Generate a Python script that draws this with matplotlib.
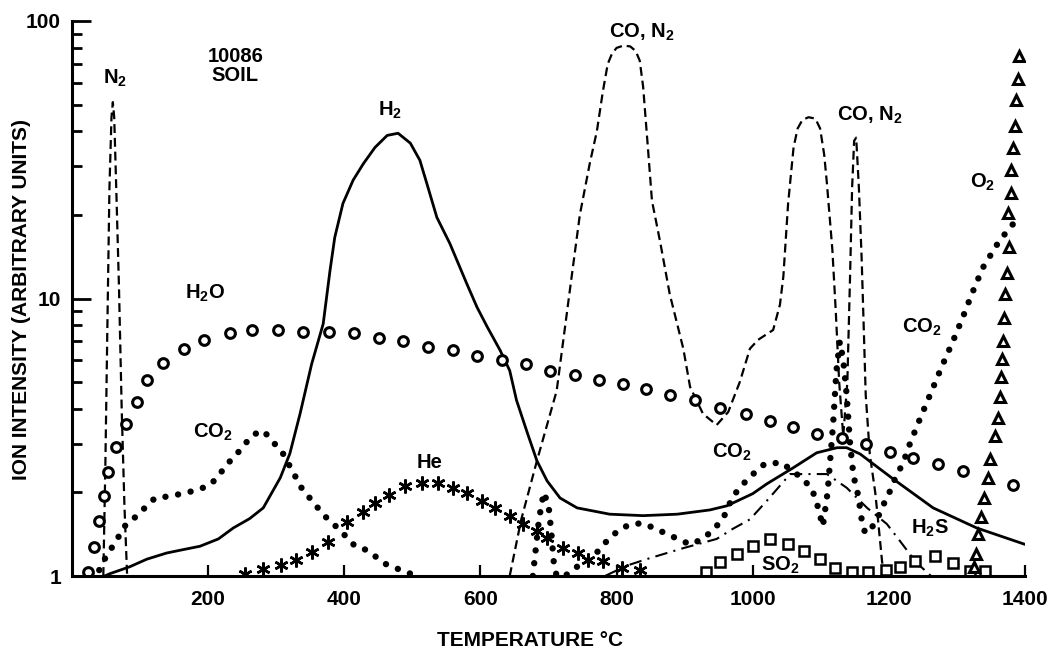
import numpy as np
import matplotlib as mpl
mpl.use('Agg')
import matplotlib.pyplot as plt

plt.rcParams['font.family'] = ['Liberation Sans', 'DejaVu Sans']
plt.rcParams['font.weight'] = 'bold'
plt.rcParams['mathtext.default'] = 'regular'

# --- data (temperature degC, ion intensity) ---
h2o_t = [23, 32, 40, 47, 53, 65, 79, 95, 110, 134, 165, 194, 232, 265, 303, 339, 378, 414,
         451, 486, 523, 560, 595, 632, 667, 702, 739, 774, 809, 843, 878, 915, 952, 990,
         1025, 1059, 1094, 1131, 1166, 1201, 1236, 1272, 1309, 1382]
h2o_i = [1.03, 1.27, 1.58, 1.94, 2.37, 2.92, 3.54, 4.25, 5.1, 5.87, 6.55, 7.07, 7.5, 7.7, 7.7,
         7.6, 7.6, 7.5, 7.2, 7.0, 6.7, 6.5, 6.2, 6.0, 5.8, 5.5, 5.3, 5.1, 4.9, 4.7, 4.5, 4.3,
         4.04, 3.82, 3.63, 3.45, 3.26, 3.15, 3.0, 2.8, 2.67, 2.54, 2.39, 2.13]

h2_t = [48, 56, 85, 110, 139, 160, 188, 215, 237, 261, 281, 306, 320, 335, 352, 369, 379, 386,
        398, 413, 428, 445, 463, 479, 497, 511, 521, 536, 555, 580, 595, 610, 629, 643, 653,
        668, 683, 698, 717, 742, 790, 839, 889, 937, 962, 1000, 1021, 1059, 1094, 1124, 1138,
        1158, 1206, 1265, 1329, 1400]
h2_i = [1.0, 1.02, 1.08, 1.15, 1.21, 1.24, 1.28, 1.36, 1.49, 1.61, 1.76, 2.26, 2.76, 3.84, 5.8,
        8.1, 12.6, 16.6, 22, 26.7, 30.6, 35, 38.7, 39.4, 36.3, 31.5, 26.1, 19.6, 15.8, 11.3,
        9.3, 7.9, 6.5, 5.5, 4.3, 3.33, 2.6, 2.2, 1.91, 1.76, 1.67, 1.65, 1.67, 1.73, 1.79,
        1.98, 2.15, 2.45, 2.78, 2.9, 2.9, 2.75, 2.24, 1.76, 1.49, 1.3]

n2_t = [46, 49, 52, 55, 58, 60, 62, 65, 69, 73, 77, 81]
n2_i = [1.0, 2.5, 8, 25, 45, 51, 45, 25, 11, 4, 1.8, 1.0]

co_n2_t = [643, 660, 683, 712, 732, 746, 761, 771, 780, 787, 793, 800, 810, 820, 828, 834, 839,
           846, 852, 864, 878, 898, 908, 927, 947, 964, 981, 996, 1008, 1030, 1040, 1045, 1052,
           1060, 1066, 1073, 1082, 1092, 1099, 1105, 1109, 1117, 1122, 1127, 1133, 1139, 1143,
           1146, 1149, 1152, 1156, 1160, 1163, 1166, 1172, 1180, 1184, 1190, 1193]
co_n2_i = [1.0, 1.6, 2.6, 4.65, 11, 20, 31, 40, 56, 70, 76, 80, 81.5, 81, 78, 72, 58, 35, 22.5,
           16, 10.4, 6.6, 4.8, 3.84, 3.5, 3.9, 5.0, 6.6, 7.1, 7.7, 9.5, 12, 22, 35, 41, 44, 45,
           44.5, 41, 33, 26, 15, 9, 5, 3.2, 5, 12, 25, 37, 38, 25, 14, 8, 4.5, 2.75, 2.0, 1.6,
           1.13, 1.0]

co2_low_t = [40, 48, 58, 68, 79, 93, 108, 122, 145, 165, 184, 203, 215, 227, 240, 253, 266, 281,
             295, 310, 327, 338, 350, 362, 374, 389, 401, 416, 433, 449, 462, 479, 497]
co2_low_i = [1.05, 1.15, 1.26, 1.38, 1.53, 1.63, 1.77, 1.91, 1.94, 1.99, 2.04, 2.13, 2.29, 2.52,
             2.71, 2.97, 3.23, 3.34, 3.05, 2.76, 2.31, 2.06, 1.9, 1.75, 1.62, 1.5, 1.4, 1.28,
             1.24, 1.16, 1.1, 1.06, 1.02]

co2_high_t = [677, 682, 686, 693, 700, 704, 708, 712, 724, 742, 757, 773, 786, 800, 818, 837,
              855, 873, 890, 908, 927, 942, 956, 971, 990, 1003, 1018, 1043, 1058, 1072, 1087,
              1095, 1103, 1110, 1118, 1123, 1128, 1133, 1138, 1143, 1148, 1155, 1160, 1165, 1172,
              1185, 1194, 1202, 1209, 1221, 1231, 1246, 1263, 1278, 1294, 1309, 1322, 1338, 1360,
              1373, 1386]
co2_high_i = [1.0, 1.3, 1.6, 2.0, 1.8, 1.45, 1.1, 1.0, 1.0, 1.08, 1.13, 1.23, 1.34, 1.44, 1.53,
              1.55, 1.49, 1.42, 1.36, 1.3, 1.36, 1.47, 1.6, 1.94, 2.2, 2.36, 2.54, 2.56, 2.39,
              2.26, 2.06, 1.8, 1.51, 2.0, 3.5, 5.5, 7.0, 6.0, 4.5, 3.0, 2.3, 1.95, 1.6, 1.43,
              1.45, 1.65, 1.85, 2.03, 2.24, 2.56, 3.0, 3.7, 4.65, 5.7, 7.0, 8.6, 10.4, 12.9,
              15.8, 17.4, 19.0]

he_t = [254, 281, 307, 329, 353, 376, 404, 427, 445, 466, 489, 514, 538, 560, 580, 602, 621,
        643, 663, 683, 698, 721, 743, 758, 780, 808, 834]
he_i = [1.02, 1.06, 1.10, 1.14, 1.22, 1.33, 1.57, 1.70, 1.84, 1.96, 2.11, 2.17, 2.17, 2.08,
        1.99, 1.87, 1.76, 1.65, 1.54, 1.45, 1.37, 1.26, 1.21, 1.14, 1.13, 1.07, 1.05]

h2s_t = [783, 815, 849, 898, 947, 971, 996, 1021, 1055, 1080, 1109, 1138, 1168, 1197, 1216,
         1240, 1262]
h2s_i = [1.0, 1.09, 1.16, 1.26, 1.36, 1.48, 1.6, 1.87, 2.33, 2.33, 2.33, 2.08, 1.76, 1.54,
         1.34, 1.12, 1.0]

so2_t = [932, 952, 977, 1000, 1025, 1052, 1075, 1099, 1121, 1146, 1170, 1196, 1216, 1238, 1268,
         1294, 1319, 1341]
so2_i = [1.03, 1.12, 1.2, 1.28, 1.36, 1.3, 1.23, 1.15, 1.07, 1.03, 1.03, 1.05, 1.08, 1.13, 1.18,
         1.11, 1.04, 1.04]

o2_t = [1325, 1328, 1331, 1336, 1340, 1345, 1349, 1356, 1360, 1363, 1365, 1366, 1368, 1369,
        1371, 1374, 1376, 1375, 1379, 1380, 1382, 1385, 1387, 1390, 1391]
o2_i = [1.08, 1.2, 1.42, 1.63, 1.91, 2.25, 2.64, 3.2, 3.7, 4.4, 5.2, 6.07, 7.05, 8.5, 10.4,
        12.4, 15.3, 20.4, 24, 29, 34.8, 42, 52, 62, 75]

xticks = [200, 400, 600, 800, 1000, 1200, 1400]

fig = plt.figure(figsize=(10.49, 6.56), dpi=100)
ax = fig.add_axes([72 / 1049, 1 - 576 / 656, (1025 - 72) / 1049, (576 - 21) / 656])
ax.set_yscale('log')
ax.set_xlim(0, 1400)
ax.set_ylim(1, 100)

dots = dict(color='black', lw=4.6, linestyle=(0, (0.01, 2.0)), dash_capstyle='round')
dashed = dict(color='black', lw=1.6, linestyle=(0, (4, 2.2)))

ax.plot(h2_t, h2_i, color='black', lw=2.0)
ax.plot(n2_t, n2_i, **dashed)
ax.plot(co_n2_t, co_n2_i, **dashed)
ax.plot(h2s_t, h2s_i, color='black', lw=1.5, linestyle=(0, (6, 3, 1, 3)))
ax.plot(co2_low_t, co2_low_i, **dots)
ax.plot(co2_high_t, co2_high_i, **dots)
ax.plot(h2o_t, h2o_i, 'o', ms=7, mfc='white', mec='black', mew=2.2, ls='none')
ax.plot(he_t, he_i, marker=(6, 2, 0), ms=10, mec='black', mew=1.8, ls='none')
ax.plot(so2_t, so2_i, 's', ms=7, mfc='white', mec='black', mew=1.8, ls='none')
ax.plot(o2_t, o2_i, '^', ms=7.5, mfc='white', mec='black', mew=2.2, ls='none')

# axes styling: only left / bottom, inward ticks
for s in ['top', 'right']:
    ax.spines[s].set_visible(False)
for s in ['left', 'bottom']:
    ax.spines[s].set_linewidth(2.2)
ax.set_xticks(xticks)
ax.set_xticklabels([str(v) for v in xticks])
ax.set_yticks([1, 10, 100])
ax.set_yticklabels(['1', '10', '100'])
ax.yaxis.set_minor_locator(mpl.ticker.LogLocator(subs=np.arange(2, 10)))
ax.yaxis.set_minor_formatter(mpl.ticker.NullFormatter())
ax.tick_params(axis='y', which='major', direction='in', length=14, width=2, pad=8, labelsize=15)
ax.tick_params(axis='y', which='minor', direction='in', length=7, width=2)
ax.tick_params(axis='x', which='major', direction='in', length=8, width=1.6, pad=10, labelsize=15)

lab = dict(ha='center', va='center', fontsize=14.5, fontweight='bold')
ax.text(63, 62, 'N$_2$', **lab)
ax.text(240, 69, '10086\nSOIL', linespacing=1.0, **lab)
ax.text(195, 10.4, 'H$_2$O', **lab)
ax.text(207, 3.28, 'CO$_2$', **lab)
ax.text(467, 47.7, 'H$_2$', **lab)
ax.text(526, 2.56, 'He', **lab)
ax.text(837, 91, 'CO, N$_2$', **lab)
ax.text(1172, 45.8, 'CO, N$_2$', **lab)
ax.text(1338, 26.2, 'O$_2$', **lab)
ax.text(1249, 7.86, 'CO$_2$', **lab)
ax.text(970, 2.78, 'CO$_2$', **lab)
ax.text(1260, 1.48, 'H$_2$S', **lab)
ax.text(1040, 1.09, 'SO$_2$', **lab)

fig.text(22 / 1049, 1 - 300 / 656, 'ION INTENSITY (ARBITRARY UNITS)', rotation=90,
         ha='center', va='center', fontsize=15, fontweight='bold')
fig.text(530 / 1049, 1 - 640 / 656, 'TEMPERATURE \u00b0C', ha='center', va='center',
         fontsize=15, fontweight='bold')

fig.savefig('out.png', dpi=100)
